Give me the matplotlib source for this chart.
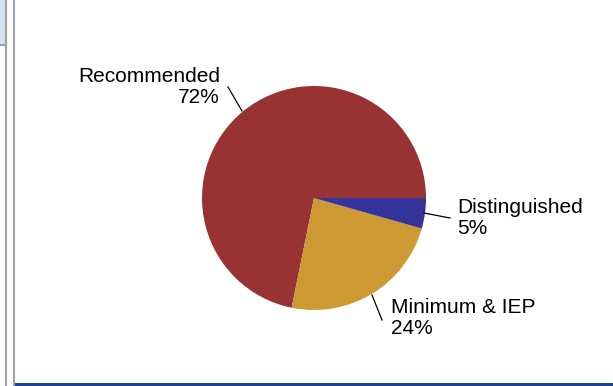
import matplotlib
matplotlib.use("Agg")
from matplotlib import pyplot as plt
from matplotlib.patches import Rectangle

plt.rcParams['font.family'] = ['Liberation Sans', 'DejaVu Sans']

# slice values (percent)
labels = ['Recommended', 'Minimum & IEP', 'Distinguished']
shown_pct = ['72%', '24%', '5%']
values = [71.8, 23.8, 4.4]
slice_colors = ['#993333', '#CC9933', '#333399']

W, H = 613, 386
cx, cy, r = 314, 198, 112  # pie centre / radius in pixels


def px(x, y):
    # pixel (from top-left) -> data coords of the pie axes
    return (x - cx) / r, (cy - y) / r


fig = plt.figure(figsize=(W / 100, H / 100), dpi=100)
ax = fig.add_axes([0, 0, 1, 1])

# pie goes counter-clockwise from 3 o'clock
ax.pie(values, colors=slice_colors, startangle=0, counterclock=True,
       radius=1, center=(0, 0), frame=True,
       wedgeprops=dict(linewidth=0))
ax.set_xlim(-cx / r, (W - cx) / r)
ax.set_ylim(-(H - cy) / r, cy / r)
ax.set_aspect('auto')
ax.axis('off')

# labels with leader lines
label_pos = [(220, 87), (391, 318), (457, 218)]
label_ha = ['right', 'left', 'left']
line_from = [(228, 87), (382, 320), (450, 218)]
line_to = [(242, 111), (372, 295), (424, 213)]
for lab, pct, p, ha, a, b in zip(labels, shown_pct, label_pos, label_ha, line_from, line_to):
    ax.text(*px(*p), lab + '\n' + pct, ha=ha, va='center', multialignment=ha,
            fontsize=15, color='black', linespacing=1.1)
    x0, y0 = px(*a)
    x1, y1 = px(*b)
    ax.plot([x0, x1], [y0, y1], color='black', lw=0.9)

# window frame bits around the chart
fa = fig.add_axes([0, 0, 1, 1], facecolor='none')
fa.set_xlim(0, W)
fa.set_ylim(H, 0)
fa.axis('off')
fa.add_patch(Rectangle((0, 0), 6, 45, facecolor='#d6e4f2', edgecolor='none'))
fa.plot([6, 6], [0, H], color='#a0a0a0', lw=1.5)
fa.plot([0, 6], [45, 45], color='#a0a0a0', lw=1.5)
fa.plot([13.5, 13.5], [0, H], color='#a0a0a0', lw=1.5)
fa.add_patch(Rectangle((14, 383), W - 14, 3, facecolor='#1f3f8f', edgecolor='none'))

fig.savefig('out.png', dpi=100)
